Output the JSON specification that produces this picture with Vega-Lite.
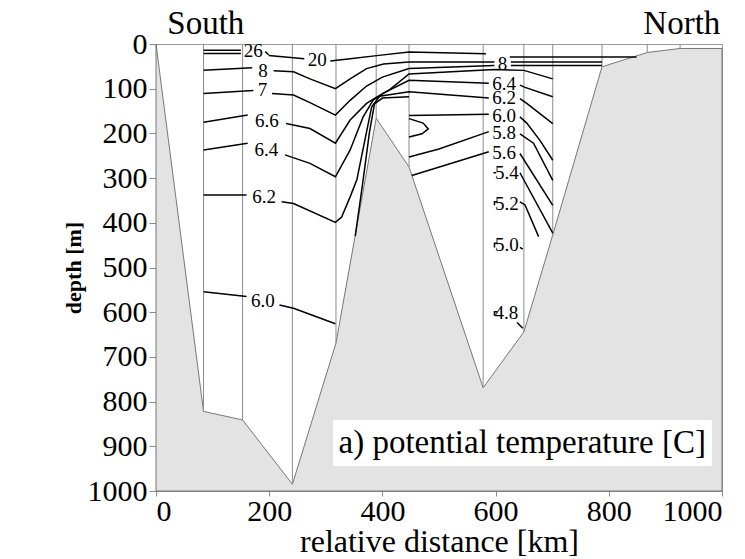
{
  "$schema": "https://vega.github.io/schema/vega-lite/v6.json",
  "width": 566,
  "height": 447,
  "autosize": {"type": "none"},
  "padding": {"left": 156, "top": 44, "right": 23, "bottom": 68},
  "background": "white",
  "config": {
    "view": {"stroke": "#9a9a9a", "strokeWidth": 1},
    "font": "Liberation Serif",
    "axis": {"grid": false, "domainColor": "#8a8a8a", "tickColor": "#8a8a8a", "labelColor": "black", "titleColor": "black", "labelFont": "Liberation Serif", "titleFont": "Liberation Serif", "labelFontSize": 30, "titleFontSize": 32, "tickSize": 6, "format": "d"}
  },
  "datasets": {
    "bathy": [
      {"km": 0, "depth": 0}, {"km": 84, "depth": 822}, {"km": 153, "depth": 841}, {"km": 241, "depth": 985},
      {"km": 318, "depth": 669}, {"km": 389, "depth": 166}, {"km": 447, "depth": 275}, {"km": 578, "depth": 769},
      {"km": 650, "depth": 644}, {"km": 701, "depth": 427}, {"km": 788, "depth": 51}, {"km": 868, "depth": 19},
      {"km": 926, "depth": 10}, {"km": 1000, "depth": 10}
    ],
    "stations": [
      {"km": 84, "depth": 822}, {"km": 153, "depth": 841}, {"km": 241, "depth": 985}, {"km": 318, "depth": 669},
      {"km": 389, "depth": 166}, {"km": 447, "depth": 275}, {"km": 578, "depth": 769}, {"km": 650, "depth": 644},
      {"km": 701, "depth": 427}, {"km": 788, "depth": 51}, {"km": 868, "depth": 19}, {"km": 926, "depth": 10}
    ],
    "contours": [
      {"c": "26a", "i": 1, "km": 84, "depth": 14}, {"c": "26a", "i": 2, "km": 150, "depth": 14},
      {"c": "26b", "i": 1, "km": 84, "depth": 21}, {"c": "26b", "i": 2, "km": 150, "depth": 21},
      {"c": "26t", "i": 1, "km": 193, "depth": 17}, {"c": "26t", "i": 2, "km": 199, "depth": 24},
      {"c": "20a", "i": 1, "km": 199, "depth": 26}, {"c": "20a", "i": 2, "km": 262, "depth": 33},
      {"c": "20b", "i": 1, "km": 308, "depth": 38}, {"c": "20b", "i": 2, "km": 343, "depth": 33}, {"c": "20b", "i": 3, "km": 390, "depth": 26}, {"c": "20b", "i": 4, "km": 447, "depth": 18}, {"c": "20b", "i": 5, "km": 583, "depth": 22},
      {"c": "20c", "i": 1, "km": 625, "depth": 29}, {"c": "20c", "i": 2, "km": 849, "depth": 29},
      {"c": "8a", "i": 1, "km": 84, "depth": 59}, {"c": "8a", "i": 2, "km": 170, "depth": 53},
      {"c": "8b", "i": 1, "km": 208, "depth": 60}, {"c": "8b", "i": 2, "km": 243, "depth": 62}, {"c": "8b", "i": 3, "km": 272, "depth": 78}, {"c": "8b", "i": 4, "km": 317, "depth": 100}, {"c": "8b", "i": 5, "km": 343, "depth": 78}, {"c": "8b", "i": 6, "km": 372, "depth": 55}, {"c": "8b", "i": 7, "km": 402, "depth": 45}, {"c": "8b", "i": 8, "km": 447, "depth": 40}, {"c": "8b", "i": 9, "km": 598, "depth": 40},
      {"c": "8c", "i": 1, "km": 627, "depth": 40}, {"c": "8c", "i": 2, "km": 788, "depth": 40},
      {"c": "7a", "i": 1, "km": 84, "depth": 111}, {"c": "7a", "i": 2, "km": 172, "depth": 104},
      {"c": "7b", "i": 1, "km": 205, "depth": 111}, {"c": "7b", "i": 2, "km": 243, "depth": 114}, {"c": "7b", "i": 3, "km": 272, "depth": 131}, {"c": "7b", "i": 4, "km": 317, "depth": 159}, {"c": "7b", "i": 5, "km": 343, "depth": 126}, {"c": "7b", "i": 6, "km": 372, "depth": 94}, {"c": "7b", "i": 7, "km": 400, "depth": 74}, {"c": "7b", "i": 8, "km": 447, "depth": 55}, {"c": "7b", "i": 9, "km": 598, "depth": 48},
      {"c": "7c", "i": 1, "km": 627, "depth": 48}, {"c": "7c", "i": 2, "km": 788, "depth": 48},
      {"c": "66a", "i": 1, "km": 84, "depth": 175}, {"c": "66a", "i": 2, "km": 162, "depth": 159},
      {"c": "66b", "i": 1, "km": 230, "depth": 178}, {"c": "66b", "i": 2, "km": 272, "depth": 189}, {"c": "66b", "i": 3, "km": 317, "depth": 222}, {"c": "66b", "i": 4, "km": 343, "depth": 170}, {"c": "66b", "i": 5, "km": 372, "depth": 133}, {"c": "66b", "i": 6, "km": 390, "depth": 119}, {"c": "66b", "i": 7, "km": 413, "depth": 102}, {"c": "66b", "i": 8, "km": 447, "depth": 67}, {"c": "66b", "i": 9, "km": 598, "depth": 57}, {"c": "66b", "i": 10, "km": 650, "depth": 59}, {"c": "66b", "i": 11, "km": 701, "depth": 78},
      {"c": "64a", "i": 1, "km": 84, "depth": 237}, {"c": "64a", "i": 2, "km": 162, "depth": 222},
      {"c": "64b", "i": 1, "km": 228, "depth": 248}, {"c": "64b", "i": 2, "km": 272, "depth": 267}, {"c": "64b", "i": 3, "km": 317, "depth": 297}, {"c": "64b", "i": 4, "km": 343, "depth": 237}, {"c": "64b", "i": 5, "km": 366, "depth": 163}, {"c": "64b", "i": 6, "km": 384, "depth": 125}, {"c": "64b", "i": 7, "km": 402, "depth": 110}, {"c": "64b", "i": 8, "km": 447, "depth": 81}, {"c": "64b", "i": 9, "km": 588, "depth": 88},
      {"c": "64c", "i": 1, "km": 643, "depth": 92}, {"c": "64c", "i": 2, "km": 652, "depth": 97}, {"c": "64c", "i": 3, "km": 701, "depth": 118},
      {"c": "62a", "i": 1, "km": 84, "depth": 338}, {"c": "62a", "i": 2, "km": 160, "depth": 338},
      {"c": "62b", "i": 1, "km": 222, "depth": 353}, {"c": "62b", "i": 2, "km": 243, "depth": 357}, {"c": "62b", "i": 3, "km": 317, "depth": 399}, {"c": "62b", "i": 4, "km": 328, "depth": 387}, {"c": "62b", "i": 5, "km": 343, "depth": 342}, {"c": "62b", "i": 6, "km": 355, "depth": 303}, {"c": "62b", "i": 7, "km": 370, "depth": 209}, {"c": "62b", "i": 8, "km": 381, "depth": 141}, {"c": "62b", "i": 9, "km": 395, "depth": 117}, {"c": "62b", "i": 10, "km": 447, "depth": 107}, {"c": "62b", "i": 11, "km": 588, "depth": 121},
      {"c": "62c", "i": 1, "km": 643, "depth": 122}, {"c": "62c", "i": 2, "km": 655, "depth": 133}, {"c": "62c", "i": 3, "km": 701, "depth": 178},
      {"c": "f2", "i": 1, "km": 352, "depth": 430}, {"c": "f2", "i": 2, "km": 365, "depth": 313}, {"c": "f2", "i": 3, "km": 377, "depth": 199}, {"c": "f2", "i": 4, "km": 386, "depth": 134}, {"c": "f2", "i": 5, "km": 400, "depth": 121}, {"c": "f2", "i": 6, "km": 447, "depth": 118},
      {"c": "60a", "i": 1, "km": 84, "depth": 554}, {"c": "60a", "i": 2, "km": 160, "depth": 565},
      {"c": "60b", "i": 1, "km": 218, "depth": 584}, {"c": "60b", "i": 2, "km": 243, "depth": 591}, {"c": "60b", "i": 3, "km": 317, "depth": 626},
      {"c": "60n", "i": 1, "km": 447, "depth": 167}, {"c": "60n", "i": 2, "km": 472, "depth": 177}, {"c": "60n", "i": 3, "km": 481, "depth": 190}, {"c": "60n", "i": 4, "km": 470, "depth": 201}, {"c": "60n", "i": 5, "km": 447, "depth": 208},
      {"c": "60r", "i": 1, "km": 447, "depth": 160}, {"c": "60r", "i": 2, "km": 588, "depth": 157},
      {"c": "60c", "i": 1, "km": 643, "depth": 163}, {"c": "60c", "i": 2, "km": 655, "depth": 177}, {"c": "60c", "i": 3, "km": 678, "depth": 215}, {"c": "60c", "i": 4, "km": 701, "depth": 260},
      {"c": "58a", "i": 1, "km": 447, "depth": 253}, {"c": "58a", "i": 2, "km": 500, "depth": 235}, {"c": "58a", "i": 3, "km": 588, "depth": 196},
      {"c": "58c", "i": 1, "km": 643, "depth": 201}, {"c": "58c", "i": 2, "km": 667, "depth": 222}, {"c": "58c", "i": 3, "km": 701, "depth": 305},
      {"c": "56a", "i": 1, "km": 452, "depth": 294}, {"c": "56a", "i": 2, "km": 588, "depth": 241},
      {"c": "56c", "i": 1, "km": 643, "depth": 245}, {"c": "56c", "i": 2, "km": 701, "depth": 361},
      {"c": "54t", "i": 1, "km": 596, "depth": 288}, {"c": "54t", "i": 2, "km": 601, "depth": 288},
      {"c": "54c", "i": 1, "km": 643, "depth": 288}, {"c": "54c", "i": 2, "km": 701, "depth": 423},
      {"c": "52t", "i": 1, "km": 598, "depth": 361}, {"c": "52t", "i": 2, "km": 598, "depth": 353}, {"c": "52t", "i": 3, "km": 603, "depth": 353},
      {"c": "52c", "i": 1, "km": 643, "depth": 353}, {"c": "52c", "i": 2, "km": 652, "depth": 360}, {"c": "52c", "i": 3, "km": 676, "depth": 431},
      {"c": "50t", "i": 1, "km": 598, "depth": 455}, {"c": "50t", "i": 2, "km": 598, "depth": 446}, {"c": "50t", "i": 3, "km": 603, "depth": 446},
      {"c": "50c", "i": 1, "km": 643, "depth": 455}, {"c": "50c", "i": 2, "km": 648, "depth": 459},
      {"c": "48t", "i": 1, "km": 598, "depth": 608}, {"c": "48t", "i": 2, "km": 598, "depth": 599}, {"c": "48t", "i": 3, "km": 603, "depth": 599},
      {"c": "48c", "i": 1, "km": 638, "depth": 623}, {"c": "48c", "i": 2, "km": 648, "depth": 636}
    ],
    "labels": [
      {"t": "26", "km": 172, "depth": 16}, {"t": "20", "km": 285, "depth": 35}, {"t": "8", "km": 189, "depth": 61},
      {"t": "7", "km": 188, "depth": 104}, {"t": "6.6", "km": 196, "depth": 172}, {"t": "6.4", "km": 195, "depth": 238},
      {"t": "6.2", "km": 191, "depth": 342}, {"t": "6.0", "km": 189, "depth": 576},
      {"t": "8", "km": 612, "depth": 44}, {"t": "6.4", "km": 615, "depth": 90}, {"t": "6.2", "km": 615, "depth": 121},
      {"t": "6.0", "km": 615, "depth": 161}, {"t": "5.8", "km": 615, "depth": 200}, {"t": "5.6", "km": 615, "depth": 244},
      {"t": "5.4", "km": 620, "depth": 288}, {"t": "5.2", "km": 620, "depth": 357}, {"t": "5.0", "km": 620, "depth": 450},
      {"t": "4.8", "km": 619, "depth": 602}
    ],
    "box": [{"x1": 313, "x2": 982, "d1": 841, "d2": 944, "t": "a) potential temperature [C]", "xc": 647, "dc": 893}],
    "heads": [{"t": "South", "km": 88, "depth": -44}, {"t": "North", "km": 929, "depth": -44}]
  },
  "layer": [
    {
      "data": {"name": "bathy"},
      "mark": {"type": "area", "fill": "#e3e3e3", "stroke": "#777777", "strokeWidth": 1},
      "encoding": {
        "x": {"field": "km", "type": "quantitative", "scale": {"domain": [0, 1000], "nice": false},
              "axis": {"values": [0, 200, 400, 600, 800, 1000], "title": "relative distance [km]", "titleFontWeight": "normal", "labelPadding": 0, "titlePadding": 0, "tickSize": 5}},
        "y": {"field": "depth", "type": "quantitative", "scale": {"domain": [0, 1000], "reverse": true, "nice": false},
              "axis": {"values": [0, 100, 200, 300, 400, 500, 600, 700, 800, 900, 1000], "title": "depth [m]", "titleFontWeight": "bold", "titleFontSize": 22, "labelPadding": 2, "titlePadding": 2, "tickSize": 7}},
        "y2": {"datum": 1000}
      }
    },
    {
      "data": {"name": "stations"},
      "mark": {"type": "rule", "color": "#8c8c8c", "strokeWidth": 1},
      "encoding": {
        "x": {"field": "km", "type": "quantitative"},
        "y": {"field": "depth", "type": "quantitative"},
        "y2": {"datum": 0}
      }
    },
    {
      "data": {"name": "contours"},
      "mark": {"type": "line", "color": "black", "strokeWidth": 1.5},
      "encoding": {
        "x": {"field": "km", "type": "quantitative"},
        "y": {"field": "depth", "type": "quantitative"},
        "detail": {"field": "c"},
        "order": {"field": "i", "type": "quantitative"}
      }
    },
    {
      "data": {"name": "labels"},
      "mark": {"type": "text", "fontSize": 19, "font": "Liberation Serif", "color": "black"},
      "encoding": {
        "x": {"field": "km", "type": "quantitative"},
        "y": {"field": "depth", "type": "quantitative"},
        "text": {"field": "t"}
      }
    },
    {
      "data": {"name": "box"},
      "mark": {"type": "rect", "fill": "white"},
      "encoding": {
        "x": {"field": "x1", "type": "quantitative"},
        "x2": {"field": "x2"},
        "y": {"field": "d1", "type": "quantitative"},
        "y2": {"field": "d2"}
      }
    },
    {
      "data": {"name": "box"},
      "mark": {"type": "text", "fontSize": 33, "font": "Liberation Serif", "color": "black"},
      "encoding": {
        "x": {"field": "xc", "type": "quantitative"},
        "y": {"field": "dc", "type": "quantitative"},
        "text": {"field": "t"}
      }
    },
    {
      "data": {"name": "heads"},
      "mark": {"type": "text", "fontSize": 33, "font": "Liberation Serif", "color": "black"},
      "encoding": {
        "x": {"field": "km", "type": "quantitative"},
        "y": {"field": "depth", "type": "quantitative"},
        "text": {"field": "t"}
      }
    }
  ]
}
